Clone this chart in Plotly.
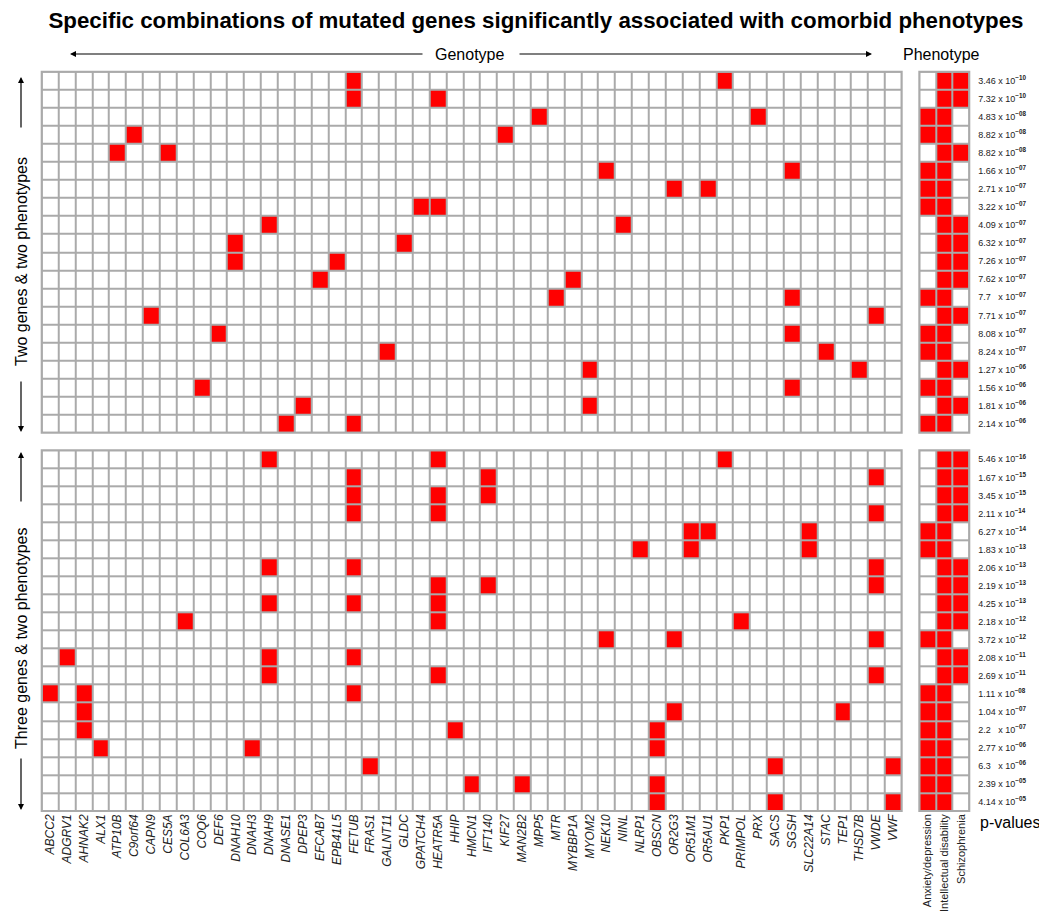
import plotly.graph_objects as go

# ---- data -------------------------------------------------------------
genes = [
    "ABCC2", "ADGRV1", "AHNAK2", "ALX1", "ATP10B", "C9orf64", "CAPN9", "CES5A",
    "COL6A3", "COQ6", "DEF6", "DNAH10", "DNAH3", "DNAH9", "DNASE1", "DPEP3",
    "EFCAB7", "EPB41L5", "FETUB", "FRAS1", "GALNT11", "GLDC", "GPATCH4", "HEATR5A",
    "HHIP", "HMCN1", "IFT140", "KIF27", "MAN2B2", "MPP5", "MTR", "MYBBP1A",
    "MYOM2", "NEK10", "NINL", "NLRP1", "OBSCN", "OR2G3", "OR51M1", "OR5AU1",
    "PKP1", "PRIMPOL", "PRX", "SACS", "SGSH", "SLC22A14", "STAC", "TEP1",
    "THSD7B", "VWDE", "VWF",
]
phenotypes = ["Anxiety/depression", "Intellectual disability", "Schizophrenia"]

# two genes & two phenotypes
two_gene_sets = [
    ["FETUB", "PKP1"], ["FETUB", "HEATR5A"], ["MPP5", "PRX"], ["C9orf64", "KIF27"],
    ["ATP10B", "CES5A"], ["NEK10", "SGSH"], ["OR2G3", "OR5AU1"], ["GPATCH4", "HEATR5A"],
    ["DNAH9", "NINL"], ["DNAH10", "GLDC"], ["DNAH10", "EPB41L5"], ["EFCAB7", "MYBBP1A"],
    ["MTR", "SGSH"], ["CAPN9", "VWDE"], ["DEF6", "SGSH"], ["GALNT11", "STAC"],
    ["MYOM2", "THSD7B"], ["COQ6", "SGSH"], ["DPEP3", "MYOM2"], ["DNASE1", "FETUB"],
]
two_pheno = [
    [0, 1, 1], [0, 1, 1], [1, 1, 0], [1, 1, 0], [0, 1, 1], [1, 1, 0], [1, 1, 0],
    [1, 1, 0], [0, 1, 1], [0, 1, 1], [0, 1, 1], [0, 1, 1], [1, 1, 0], [0, 1, 1],
    [1, 1, 0], [1, 1, 0], [0, 1, 1], [1, 1, 0], [0, 1, 1], [1, 1, 0],
]
two_mant = ["3.46", "7.32", "4.83", "8.82", "8.82", "1.66", "2.71", "3.22", "4.09", "6.32",
            "7.26", "7.62", "7.7", "7.71", "8.08", "8.24", "1.27", "1.56", "1.81", "2.14"]
two_exp = [-10, -10, -8, -8, -8, -7, -7, -7, -7, -7,
           -7, -7, -7, -7, -7, -7, -6, -6, -6, -6]

# three genes & two phenotypes
three_gene_sets = [
    ["DNAH9", "HEATR5A", "PKP1"], ["FETUB", "IFT140", "VWDE"], ["FETUB", "HEATR5A", "IFT140"],
    ["FETUB", "HEATR5A", "VWDE"], ["OR51M1", "OR5AU1", "SLC22A14"], ["NLRP1", "OR51M1", "SLC22A14"],
    ["DNAH9", "FETUB", "VWDE"], ["HEATR5A", "IFT140", "VWDE"], ["DNAH9", "FETUB", "HEATR5A"],
    ["COL6A3", "HEATR5A", "PRIMPOL"], ["NEK10", "OR2G3", "VWDE"], ["ADGRV1", "DNAH9", "FETUB"],
    ["DNAH9", "HEATR5A", "VWDE"], ["ABCC2", "AHNAK2", "FETUB"], ["AHNAK2", "OR2G3", "TEP1"],
    ["AHNAK2", "HHIP", "OBSCN"], ["ALX1", "DNAH3", "OBSCN"], ["FRAS1", "SACS", "VWF"],
    ["HMCN1", "MAN2B2", "OBSCN"], ["OBSCN", "SACS", "VWF"],
]
three_pheno = [
    [0, 1, 1], [0, 1, 1], [0, 1, 1], [0, 1, 1], [1, 1, 0], [1, 1, 0], [0, 1, 1],
    [0, 1, 1], [0, 1, 1], [0, 1, 1], [1, 1, 0], [0, 1, 1], [0, 1, 1], [1, 1, 0],
    [1, 1, 0], [1, 1, 0], [1, 1, 0], [1, 1, 0], [1, 1, 0], [1, 1, 0],
]
three_mant = ["5.46", "1.67", "3.45", "2.11", "6.27", "1.83", "2.06", "2.19", "4.25", "2.18",
              "3.72", "2.08", "2.69", "1.11", "1.04", "2.2", "2.77", "6.3", "2.39", "4.14"]
three_exp = [-16, -15, -15, -14, -14, -13, -13, -13, -13, -12,
             -12, -11, -11, -8, -7, -7, -6, -6, -5, -5]

# ---- helpers ----------------------------------------------------------
W, H = 1039, 911
FONT = "Arial, Liberation Sans, sans-serif"
RED = "#ff0000"
GRID = "#aaaaaa"


def px_x(x):
    return x / W


def px_y(y):
    return 1 - y / H


def membership(sets):
    return [[1 if g in s else 0 for g in genes] for s in sets]


def pval_text(mant, exp):
    pad = "&nbsp;&nbsp;" if len(mant) < 4 else ""
    return f"{mant}{pad} x 10<sup><b>\u2212{abs(exp):02d}</b></sup>"


scale = [[0, "white"], [1, RED]]
n_rows = len(two_gene_sets)
rows = list(range(n_rows))

fig = go.Figure()

panels = [
    (membership(two_gene_sets), two_pheno, "", "2"),
    (membership(three_gene_sets), three_pheno, "3", "4"),
]
for geno_z, pheno_z, ga, pa in panels:
    fig.add_trace(go.Heatmap(
        z=geno_z, x=list(range(len(genes))), y=rows, colorscale=scale, zmin=0, zmax=1,
        showscale=False, xgap=2, ygap=2, hoverinfo="skip",
        xaxis="x" + ga, yaxis="y" + ga,
    ))
    fig.add_trace(go.Heatmap(
        z=pheno_z, x=list(range(len(phenotypes))), y=rows, colorscale=scale, zmin=0, zmax=1,
        showscale=False, xgap=2, ygap=2, hoverinfo="skip",
        xaxis="x" + pa, yaxis="y" + pa,
    ))

# panel geometry (pixels)
gx = [px_x(41.7), px_x(901.7)]
phx = [px_x(919.3), px_x(969.3)]
top_y = [px_y(432.7), px_y(71.7)]
bot_y = [px_y(811.0), px_y(450.3)]

hidden = dict(showgrid=False, zeroline=False, showticklabels=False, ticks="", showline=False)
geno_xr = [-0.5, len(genes) - 0.5]
pheno_xr = [-0.5, len(phenotypes) - 0.5]
yr = [n_rows - 0.5, -0.5]

pval_axis = dict(
    showgrid=False, zeroline=False, showline=False, side="right", ticks="",
    tickmode="array", tickvals=rows, ticklabelstandoff=8,
    tickfont=dict(family=FONT, size=9, color="#222222"),
)

fig.update_layout(
    width=W, height=H,
    margin=dict(l=0, r=0, t=0, b=0),
    paper_bgcolor="white", plot_bgcolor=GRID,
    showlegend=False,
    font=dict(family=FONT, color="black"),
    title=dict(
        text="<b>Specific combinations of mutated genes significantly associated with comorbid phenotypes</b>",
        x=px_x(536), xanchor="center", y=px_y(20), yanchor="middle",
        font=dict(family=FONT, size=22.3, color="black"),
    ),
    xaxis=dict(domain=gx, anchor="y", range=geno_xr, **hidden),
    yaxis=dict(domain=top_y, anchor="x", range=yr, **hidden),
    xaxis2=dict(domain=phx, anchor="y2", range=pheno_xr, **hidden),
    yaxis2=dict(domain=top_y, anchor="x2", range=yr,
                ticktext=[pval_text(m, e) for m, e in zip(two_mant, two_exp)], **pval_axis),
    xaxis3=dict(domain=gx, anchor="y3", range=geno_xr, showgrid=False, zeroline=False,
                showline=False, ticks="", tickmode="array",
                tickvals=list(range(len(genes))), ticktext=genes, tickangle=-90,
                tickfont=dict(family=FONT, size=12, style="italic", color="#222222")),
    yaxis3=dict(domain=bot_y, anchor="x3", range=yr, **hidden),
    xaxis4=dict(domain=phx, anchor="y4", range=pheno_xr, showgrid=False, zeroline=False,
                showline=False, ticks="", tickmode="array",
                tickvals=list(range(len(phenotypes))), ticktext=phenotypes, tickangle=-90,
                tickfont=dict(family=FONT, size=11, color="#222222")),
    yaxis4=dict(domain=bot_y, anchor="x4", range=yr,
                ticktext=[pval_text(m, e) for m, e in zip(three_mant, three_exp)], **pval_axis),
)

# outer frames of the four grids
for xd, yd in [(gx, top_y), (phx, top_y), (gx, bot_y), (phx, bot_y)]:
    fig.add_shape(type="rect", xref="paper", yref="paper",
                  x0=xd[0], x1=xd[1], y0=yd[0], y1=yd[1],
                  line=dict(color=GRID, width=2), fillcolor="rgba(0,0,0,0)")

annotations = []


def text(x, y, s, size=16, angle=0, xanchor="center"):
    annotations.append(dict(
        x=px_x(x), y=px_y(y), xref="paper", yref="paper", text=s, showarrow=False,
        textangle=angle, xanchor=xanchor, yanchor="middle",
        font=dict(family=FONT, size=size, color="black"),
    ))


def arrow(tip_x, tip_y, tail_x, tail_y):
    annotations.append(dict(
        x=px_x(tip_x), y=px_y(tip_y), xref="paper", yref="paper", text="",
        showarrow=True, ax=tail_x - tip_x, ay=tail_y - tip_y, axref="pixel", ayref="pixel",
        arrowhead=2, arrowsize=1, arrowwidth=1.2, arrowcolor="black", standoff=0,
    ))


# header
text(469, 54, "Genotype")
text(941, 54, "Phenotype")
arrow(70, 54, 424, 54)
arrow(872, 54, 518, 54)

# side labels
text(21, 262, "Two genes & two phenotypes", angle=-90)
arrow(21, 77, 21, 129)
arrow(21, 432, 21, 380)
text(21, 639, "Three genes & two phenotypes", angle=-90)
arrow(21, 452, 21, 503)
arrow(21, 810, 21, 757)

text(978, 822, "p-values", xanchor="left")

fig.update_layout(annotations=annotations)

fig.write_html("out.html")
